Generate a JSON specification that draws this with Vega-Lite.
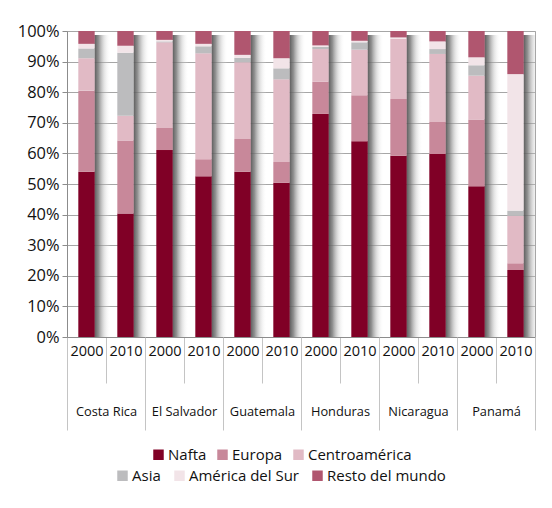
{
  "$schema": "https://vega.github.io/schema/vega-lite/v6.json",
  "width": 468,
  "height": 306,
  "autosize": "none",
  "padding": {"left": 67, "top": 31, "right": 17, "bottom": 171},
  "background": "white",
  "config": {
    "font": "Open Sans",
    "view": {"stroke": "#a6a6a6", "strokeWidth": 1},
    "axisY": {
      "title": null,
      "values": [0, 0.1, 0.2, 0.3, 0.4, 0.5, 0.6, 0.7, 0.8, 0.9, 1],
      "format": ".0%",
      "labelFontSize": 16.4,
      "labelColor": "#111111",
      "labelPadding": 3,
      "tickSize": 5,
      "tickColor": "#8c8c8c",
      "domainColor": "#8c8c8c",
      "gridColor": "#a6a6a6",
      "gridWidth": 1,
      "labelOverlap": false
    },
    "legend": {
      "title": null,
      "direction": "horizontal",
      "symbolType": "square",
      "symbolSize": 110,
      "symbolStrokeWidth": 0,
      "labelFontSize": 15,
      "labelColor": "#111111",
      "labelOffset": 2,
      "padding": 0
    }
  },
  "data": {
    "values": [
      {"country": "Costa Rica", "year": "2000", "region": "Nafta", "share": 54.0},
      {"country": "Costa Rica", "year": "2000", "region": "Europa", "share": 26.5},
      {"country": "Costa Rica", "year": "2000", "region": "Centroamérica", "share": 10.6},
      {"country": "Costa Rica", "year": "2000", "region": "Asia", "share": 3.2},
      {"country": "Costa Rica", "year": "2000", "region": "América del Sur", "share": 1.5},
      {"country": "Costa Rica", "year": "2000", "region": "Resto del mundo", "share": 4.2},
      {"country": "Costa Rica", "year": "2010", "region": "Nafta", "share": 40.4},
      {"country": "Costa Rica", "year": "2010", "region": "Europa", "share": 23.8},
      {"country": "Costa Rica", "year": "2010", "region": "Centroamérica", "share": 8.1},
      {"country": "Costa Rica", "year": "2010", "region": "Asia", "share": 20.6},
      {"country": "Costa Rica", "year": "2010", "region": "América del Sur", "share": 2.3},
      {"country": "Costa Rica", "year": "2010", "region": "Resto del mundo", "share": 4.8},
      {"country": "El Salvador", "year": "2000", "region": "Nafta", "share": 61.1},
      {"country": "El Salvador", "year": "2000", "region": "Europa", "share": 7.2},
      {"country": "El Salvador", "year": "2000", "region": "Centroamérica", "share": 28.0},
      {"country": "El Salvador", "year": "2000", "region": "Asia", "share": 0.3},
      {"country": "El Salvador", "year": "2000", "region": "América del Sur", "share": 0.5},
      {"country": "El Salvador", "year": "2000", "region": "Resto del mundo", "share": 2.9},
      {"country": "El Salvador", "year": "2010", "region": "Nafta", "share": 52.5},
      {"country": "El Salvador", "year": "2010", "region": "Europa", "share": 5.6},
      {"country": "El Salvador", "year": "2010", "region": "Centroamérica", "share": 34.6},
      {"country": "El Salvador", "year": "2010", "region": "Asia", "share": 2.3},
      {"country": "El Salvador", "year": "2010", "region": "América del Sur", "share": 0.8},
      {"country": "El Salvador", "year": "2010", "region": "Resto del mundo", "share": 4.2},
      {"country": "Guatemala", "year": "2000", "region": "Nafta", "share": 54.0},
      {"country": "Guatemala", "year": "2000", "region": "Europa", "share": 10.7},
      {"country": "Guatemala", "year": "2000", "region": "Centroamérica", "share": 25.1},
      {"country": "Guatemala", "year": "2000", "region": "Asia", "share": 1.4},
      {"country": "Guatemala", "year": "2000", "region": "América del Sur", "share": 1.0},
      {"country": "Guatemala", "year": "2000", "region": "Resto del mundo", "share": 7.8},
      {"country": "Guatemala", "year": "2010", "region": "Nafta", "share": 50.4},
      {"country": "Guatemala", "year": "2010", "region": "Europa", "share": 6.8},
      {"country": "Guatemala", "year": "2010", "region": "Centroamérica", "share": 27.0},
      {"country": "Guatemala", "year": "2010", "region": "Asia", "share": 3.6},
      {"country": "Guatemala", "year": "2010", "region": "América del Sur", "share": 3.3},
      {"country": "Guatemala", "year": "2010", "region": "Resto del mundo", "share": 8.9},
      {"country": "Honduras", "year": "2000", "region": "Nafta", "share": 72.9},
      {"country": "Honduras", "year": "2000", "region": "Europa", "share": 10.5},
      {"country": "Honduras", "year": "2000", "region": "Centroamérica", "share": 10.7},
      {"country": "Honduras", "year": "2000", "region": "Asia", "share": 0.7},
      {"country": "Honduras", "year": "2000", "region": "América del Sur", "share": 0.5},
      {"country": "Honduras", "year": "2000", "region": "Resto del mundo", "share": 4.7},
      {"country": "Honduras", "year": "2010", "region": "Nafta", "share": 64.0},
      {"country": "Honduras", "year": "2010", "region": "Europa", "share": 15.0},
      {"country": "Honduras", "year": "2010", "region": "Centroamérica", "share": 14.9},
      {"country": "Honduras", "year": "2010", "region": "Asia", "share": 2.4},
      {"country": "Honduras", "year": "2010", "region": "América del Sur", "share": 0.5},
      {"country": "Honduras", "year": "2010", "region": "Resto del mundo", "share": 3.2},
      {"country": "Nicaragua", "year": "2000", "region": "Nafta", "share": 59.2},
      {"country": "Nicaragua", "year": "2000", "region": "Europa", "share": 18.6},
      {"country": "Nicaragua", "year": "2000", "region": "Centroamérica", "share": 19.7},
      {"country": "Nicaragua", "year": "2000", "region": "Asia", "share": 0.0},
      {"country": "Nicaragua", "year": "2000", "region": "América del Sur", "share": 0.4},
      {"country": "Nicaragua", "year": "2000", "region": "Resto del mundo", "share": 2.1},
      {"country": "Nicaragua", "year": "2010", "region": "Nafta", "share": 59.8},
      {"country": "Nicaragua", "year": "2010", "region": "Europa", "share": 10.5},
      {"country": "Nicaragua", "year": "2010", "region": "Centroamérica", "share": 22.2},
      {"country": "Nicaragua", "year": "2010", "region": "Asia", "share": 1.6},
      {"country": "Nicaragua", "year": "2010", "region": "América del Sur", "share": 2.5},
      {"country": "Nicaragua", "year": "2010", "region": "Resto del mundo", "share": 3.4},
      {"country": "Panamá", "year": "2000", "region": "Nafta", "share": 49.3},
      {"country": "Panamá", "year": "2000", "region": "Europa", "share": 21.8},
      {"country": "Panamá", "year": "2000", "region": "Centroamérica", "share": 14.3},
      {"country": "Panamá", "year": "2000", "region": "Asia", "share": 3.4},
      {"country": "Panamá", "year": "2000", "region": "América del Sur", "share": 2.6},
      {"country": "Panamá", "year": "2000", "region": "Resto del mundo", "share": 8.6},
      {"country": "Panamá", "year": "2010", "region": "Nafta", "share": 21.9},
      {"country": "Panamá", "year": "2010", "region": "Europa", "share": 2.2},
      {"country": "Panamá", "year": "2010", "region": "Centroamérica", "share": 15.5},
      {"country": "Panamá", "year": "2010", "region": "Asia", "share": 1.7},
      {"country": "Panamá", "year": "2010", "region": "América del Sur", "share": 44.6},
      {"country": "Panamá", "year": "2010", "region": "Resto del mundo", "share": 14.1}
    ]
  },
  "transform": [
    {"calculate": "datum.country + '|' + datum.year", "as": "key"},
    {"calculate": "indexof(['Nafta','Europa','Centroamérica','Asia','América del Sur','Resto del mundo'], datum.region)", "as": "k"}
  ],
  "layer": [
    {
      "encoding": {
        "x": {
          "field": "key", "type": "nominal", "sort": null,
          "scale": {"paddingInner": 0, "paddingOuter": 0},
          "axis": {
            "orient": "bottom",
            "title": null,
            "labelExpr": "split(datum.value, '|')[1]",
            "labelAngle": 0,
            "labelFontSize": 14.5,
            "labelColor": "#111111",
            "labelPadding": -39,
            "tickBand": "extent",
            "tickSize": 46,
            "tickColor": "#c4c4c4",
            "domainColor": "#8c8c8c",
            "grid": false
          }
        }
      },
      "layer": [
        {
          "transform": [
            {"aggregate": [{"op": "sum", "field": "share", "as": "tot"}], "groupby": ["key"]},
            {"stack": "tot", "groupby": ["key"], "offset": "normalize", "as": ["t0", "t1"]}
          ],
          "mark": {
            "type": "bar",
            "width": {"band": 0.42},
            "xOffset": 16,
            "yOffset": 4,
            "clip": true,
            "color": {
              "gradient": "linear",
              "x1": 0, "x2": 1, "y1": 0, "y2": 0,
              "stops": [
                {"offset": 0, "color": "rgba(80,80,80,0.95)"},
                {"offset": 0.25, "color": "rgba(115,115,115,0.8)"},
                {"offset": 0.6, "color": "rgba(185,185,185,0.4)"},
                {"offset": 1, "color": "rgba(255,255,255,0)"}
              ]
            }
          },
          "encoding": {
            "y": {"field": "t1", "type": "quantitative", "scale": {"domain": [0, 1]}},
            "y2": {"field": "t0"}
          }
        },
        {
          "transform": [
            {"stack": "share", "groupby": ["key"], "sort": [{"field": "k", "order": "ascending"}], "offset": "normalize", "as": ["s0", "s1"]},
            {"filter": "datum.k < 3"}
          ],
          "mark": {"type": "bar", "width": {"band": 0.42}},
          "encoding": {
            "y": {"field": "s1", "type": "quantitative", "scale": {"domain": [0, 1]}},
            "y2": {"field": "s0"},
            "color": {
              "field": "region", "type": "nominal", "sort": null,
              "scale": {
                "domain": ["Nafta", "Europa", "Centroamérica"],
                "range": ["#800026", "#c8889a", "#e1bac5"]
              },
              "legend": {
                "orient": "none",
                "legendX": 84,
                "legendY": 416,
                "columnPadding": 8
              }
            }
          }
        },
        {
          "transform": [
            {"stack": "share", "groupby": ["key"], "sort": [{"field": "k", "order": "ascending"}], "offset": "normalize", "as": ["s0", "s1"]},
            {"filter": "datum.k >= 3"}
          ],
          "mark": {"type": "bar", "width": {"band": 0.42}},
          "encoding": {
            "y": {"field": "s1", "type": "quantitative", "scale": {"domain": [0, 1]}},
            "y2": {"field": "s0"},
            "fill": {
              "field": "region", "type": "nominal", "sort": null,
              "scale": {
                "domain": ["Asia", "América del Sur", "Resto del mundo"],
                "range": ["#bcbcbe", "#f2e4e8", "#b0566f"]
              },
              "legend": {
                "orient": "none",
                "legendX": 48,
                "legendY": 437,
                "columnPadding": 11
              }
            }
          }
        }
      ]
    },
    {
      "mark": {"type": "rule", "opacity": 0},
      "encoding": {
        "x": {
          "field": "country", "type": "nominal", "sort": null,
          "scale": {"paddingInner": 0, "paddingOuter": 0},
          "axis": {
            "orient": "bottom",
            "title": null,
            "labelAngle": 0,
            "labelFontSize": 12.8,
            "labelColor": "#111111",
            "labelPadding": -25,
            "tickBand": "extent",
            "tickSize": 93,
            "tickColor": "#c4c4c4",
            "domain": false,
            "grid": false
          }
        }
      }
    }
  ],
  "resolve": {"scale": {"x": "independent"}, "axis": {"x": "independent"}}
}
